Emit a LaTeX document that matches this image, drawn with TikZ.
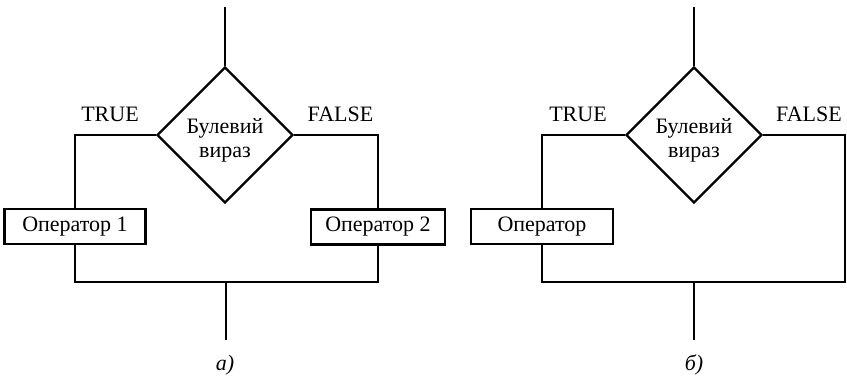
\documentclass[tikz,border=0pt]{standalone}
\usepackage{fontspec}
\setmainfont{Liberation Serif}
\usetikzlibrary{shapes.geometric}

\begin{document}
\begin{tikzpicture}[
    x=0.5pt, y=-0.5pt,
    line width=1.2pt,
    font=\fontsize{11}{12.5}\selectfont,
    cond/.style={diamond,draw,minimum width=68pt,minimum height=68pt,inner sep=0pt,align=center},
    opbox/.style={rectangle,draw,minimum height=17.5pt,inner sep=2pt}
]
\useasboundingbox (0,0) rectangle (847,382);

% Left diagram
% Blocks
\coordinate (top1) at (225,7);
\node[cond] (d1) at (225,135) {\rule{0pt}{12.5pt}Булевий\\[-0.5pt]вираз};
\node[opbox,minimum width=70.5pt] (box1) at (75,226.5) {Оператор 1};
\node[opbox,minimum width=67pt] (box2) at (378,227) {Оператор 2};
\coordinate (join1) at (226,282);
\coordinate (end1) at (226,340);

% Branch labels
\node (true1) at (110,114) {TRUE};
\node (false1) at (340.5,114) {FALSE};

% Connections
\draw (top1) -- (d1.north);
\draw (d1.west) -| (box1.north);
\draw (d1.east) -| (box2.north);
\draw (box1.south) |- (join1) -| (box2.south);
\draw (join1) -- (end1);

\node (cap1) at (225,365) {\itshape а)};

% Right diagram
% Blocks
\coordinate (top2) at (694,7);
\node[cond] (d2) at (694,135) {\rule{0pt}{12.5pt}Булевий\\[-0.5pt]вираз};
\node[opbox,minimum width=71pt] (box3) at (542,226.5) {Оператор};
\coordinate (cr2) at (845,282);
\coordinate (join2) at (694,282);
\coordinate (end2) at (694,340);

% Branch labels
\node (true2) at (578,114) {TRUE};
\node (false2) at (809,114) {FALSE};

% Connections
\draw (top2) -- (d2.north);
\draw (d2.west) -| (box3.north);
\draw (d2.east) -| (cr2) -| (box3.south);
\draw (join2) -- (end2);

\node (cap2) at (694,365) {\itshape б)};

\end{tikzpicture}
\end{document}
